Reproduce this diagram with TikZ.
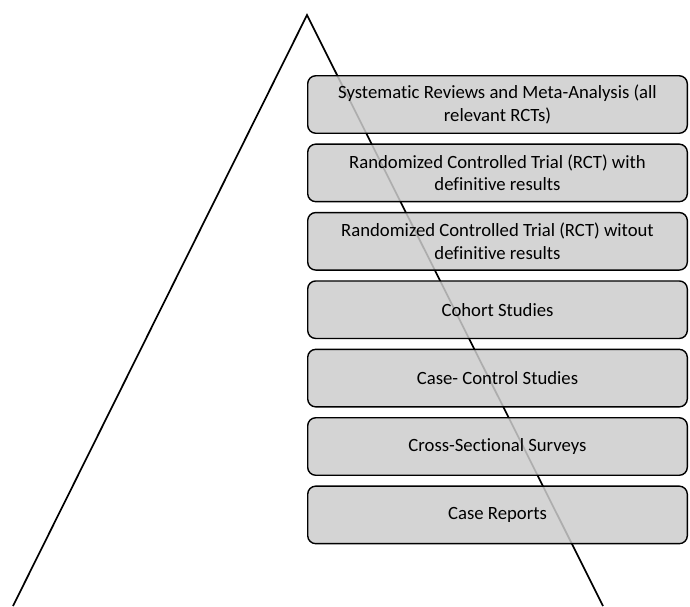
\documentclass[tikz,border=0pt]{standalone}
\usepackage{fontspec}
\setmainfont{Carlito}[Ligatures=NoCommon]
\usetikzlibrary{positioning}

\begin{document}
\begin{tikzpicture}[
    x=1pt,y=-1pt,
    node distance=9.5pt,
    level/.style={rectangle,draw,line width=1.4pt,rounded corners=8pt,fill=black!20,fill opacity=0.85,text opacity=1,
        minimum width=379.6pt,minimum height=57.5pt,align=center,inner sep=2pt,
        font=\fontsize{18.7pt}{22.5pt}\selectfont},
    edge/.style={line width=1.7pt}
]
    \useasboundingbox (0,0) rectangle (690,606);

    % pyramid outline
    \coordinate (apex) at (307,15);
    \coordinate (baseL) at (13,606);
    \coordinate (baseR) at (603,606);
    \draw[edge] (baseL) -- (apex) -- (baseR);

    % levels of evidence
    \node[level] (srma) at (497.5,104.5) {Systematic Reviews and Meta-Analysis (all\\relevant RCTs)};
    \node[level,below=of srma] (rctdef) {Randomized Controlled Trial (RCT) with\\definitive results};
    \node[level,below=of rctdef] (rctnodef) {Randomized Controlled Trial (RCT) witout\\definitive results};
    \node[level,below=of rctnodef] (cohort) {Cohort Studies};
    \node[level,below=of cohort] (casectrl) {Case- Control Studies};
    \node[level,below=of casectrl] (cross) {Cross-Sectional Surveys};
    \node[level,below=of cross] (reports) {Case Reports};
\end{tikzpicture}
\end{document}
